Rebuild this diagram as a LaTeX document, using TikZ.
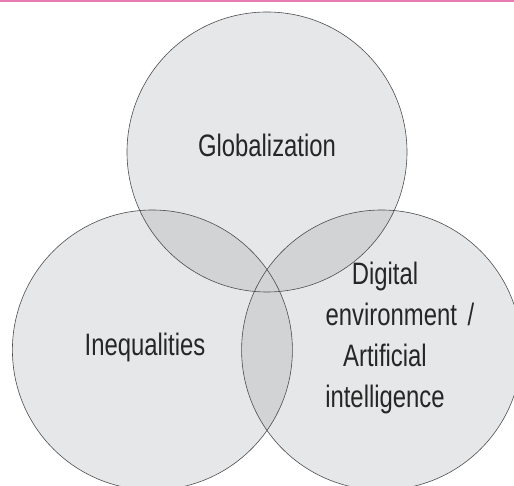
\documentclass[tikz,border=0pt]{standalone}
\usepackage{fontspec}
\setmainfont{Liberation Sans}[FakeStretch=0.77]
\definecolor{venn}{RGB}{230,231,232}
\definecolor{vennover}{RGB}{209,211,212}
\definecolor{vennline}{RGB}{77,77,79}
\definecolor{pinkrule}{RGB}{231,124,178}
\tikzset{
  vtext/.style={inner sep=0pt, text=black!85, font={\fontsize{31}{41}\selectfont}},
  vring/.style={draw=vennline, line width=0.6pt}
}
\begin{document}
\begin{tikzpicture}[x=1pt,y=-1pt]

\newcommand{\circr}{140pt}

\useasboundingbox (0,0) rectangle (514,486);
\clip (0,0) rectangle (514,486);

\coordinate (g) at (267,152);
\coordinate (i) at (152.4,350);
\coordinate (d) at (381.6,350);

\fill[venn] (g) circle (\circr) (i) circle (\circr) (d) circle (\circr);

\begin{scope}
\clip (g) circle (\circr);
\fill[vennover] (i) circle (\circr) (d) circle (\circr);
\end{scope}

\begin{scope}
\clip (i) circle (\circr);
\fill[vennover] (d) circle (\circr);
\end{scope}

\draw[vring] (g) circle (\circr);
\draw[vring] (i) circle (\circr);
\draw[vring] (d) circle (\circr);

\draw[pinkrule, line width=1.6pt] (0,0.8) -- (514,0.8);

\node[vtext, anchor=base] (glob) at (267,157) {Globalization};
\node[vtext, anchor=base] (ineq) at (145,355) {Inequalities};
\node[vtext, align=center] (digi) at (385,338)
  {Digital\\\hspace*{30pt}environment\hspace{4pt} /\\Artificial\\intelligence};

\end{tikzpicture}
\end{document}
